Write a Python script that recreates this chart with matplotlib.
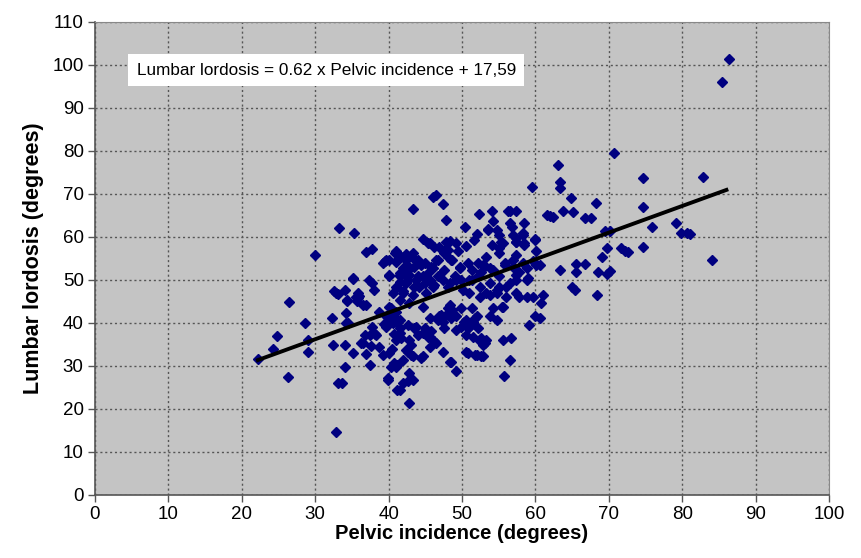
import numpy as np
import matplotlib
matplotlib.use('Agg')
import matplotlib.pyplot as plt

plt.rcParams['font.family'] = ['Liberation Sans', 'DejaVu Sans']

# points: (pelvic incidence, lumbar lordosis)
points = [
    (86.3, 101.4), (85.4, 96.0), (82.8, 74.0), (84.1, 54.7), (70.7, 79.5), (63.1, 76.7),
    (63.3, 72.8), (63.3, 71.4), (64.9, 69.1), (74.6, 73.6), (74.6, 67.0), (62.0, 64.8),
    (62.4, 64.6), (63.7, 66.0), (65.1, 65.8), (66.8, 64.4), (67.6, 64.3), (68.2, 67.9),
    (69.4, 61.4), (70.1, 61.4), (75.9, 62.3), (79.2, 63.3), (80.6, 60.9), (81.0, 60.7),
    (79.8, 60.9), (69.7, 57.4), (69.0, 55.4), (71.7, 57.4), (72.2, 56.7), (72.6, 56.5),
    (74.6, 57.7), (63.3, 52.2), (65.5, 53.7), (65.5, 51.9), (66.7, 53.7), (68.5, 51.9),
    (69.8, 51.4), (70.1, 52.1), (65.0, 48.4), (65.4, 47.7), (68.4, 46.5), (60.8, 44.7),
    (60.6, 41.2), (59.5, 71.6),
    (33.2, 62.0), (35.3, 60.8), (30.0, 55.8), (36.9, 56.4), (37.7, 57.1), (39.5, 54.4),
    (39.2, 53.9), (39.7, 54.7), (40.9, 56.2), (41.0, 54.1), (35.2, 50.2), (37.4, 50.0),
    (37.7, 49.2), (38.0, 47.7), (32.5, 47.3), (33.1, 46.7), (34.0, 47.7), (34.3, 45.2),
    (35.8, 46.9), (36.0, 46.3), (35.7, 45.0), (36.9, 44.2), (26.5, 44.8), (32.3, 41.2),
    (34.2, 42.3), (34.5, 39.9), (28.6, 39.9), (24.8, 37.0), (24.2, 34.0), (29.0, 36.1),
    (29.0, 33.3), (22.2, 31.6), (26.3, 27.5), (32.4, 34.9), (34.1, 34.9), (35.1, 33.0),
    (34.0, 29.8), (33.1, 26.0), (33.6, 26.0), (36.9, 32.8), (36.3, 35.4), (36.8, 37.2),
    (37.5, 37.2), (38.3, 37.2), (37.6, 34.7), (37.8, 39.1), (37.5, 30.1), (38.7, 34.5),
    (39.2, 32.6), (38.7, 42.6), (39.6, 41.7), (40.6, 41.5), (39.4, 39.7), (39.6, 39.1),
    (40.7, 37.4), (41.0, 36.1), (40.5, 34.0), (39.9, 26.7), (41.2, 24.4), (40.3, 29.8),
    (40.8, 30.6), (41.2, 30.2), (32.9, 14.7),
    (46.0, 69.2), (46.4, 69.8), (47.4, 67.7), (43.3, 66.4), (47.8, 63.8), (52.3, 65.3),
    (54.1, 65.9), (56.3, 65.9), (57.3, 66.1), (58.5, 63.3), (56.5, 63.3), (56.8, 62.4),
    (61.6, 65.0), (50.4, 62.4), (52.0, 60.6), (51.6, 59.3), (53.6, 61.8), (54.7, 61.6),
    (54.1, 58.1), (55.3, 58.9), (55.1, 57.4), (57.3, 59.7), (57.3, 58.7), (58.3, 60.5),
    (58.5, 58.5), (60.0, 59.3), (44.7, 59.5), (45.6, 58.5), (46.9, 57.7), (48.3, 59.1),
    (49.2, 58.5), (41.0, 56.6), (42.4, 56.0), (43.3, 55.0), (47.6, 56.6), (48.1, 55.4),
    (48.7, 54.7), (49.7, 52.7), (46.5, 54.7), (46.0, 52.7), (44.4, 53.5), (52.2, 53.9),
    (53.1, 53.3), (53.8, 52.7), (52.6, 51.9), (55.8, 53.5), (56.9, 52.9), (58.8, 52.7),
    (60.1, 53.5), (57.4, 51.2), (59.0, 50.4), (41.5, 51.6), (42.8, 51.2), (43.7, 50.0),
    (44.7, 50.8), (45.6, 50.0), (42.4, 49.2), (41.0, 48.4), (44.2, 48.4), (46.0, 48.4),
    (47.4, 50.0), (46.9, 50.8), (48.3, 49.2), (49.2, 50.0), (41.9, 46.9), (43.3, 46.5),
    (45.1, 46.9), (42.8, 44.6), (44.7, 43.8), (41.5, 45.3), (51.0, 50.0), (52.4, 48.4),
    (53.8, 49.2), (54.7, 47.7), (56.0, 48.4), (57.4, 46.9), (58.8, 46.1), (56.0, 46.1),
    (53.8, 46.5), (52.4, 46.1), (51.0, 46.9), (50.1, 47.7), (60.0, 41.5), (59.1, 39.5),
    (48.3, 44.2), (48.7, 43.0), (47.8, 41.9), (46.9, 41.5), (47.4, 40.3), (49.2, 41.5),
    (50.6, 40.7), (51.5, 40.3), (52.0, 41.5), (51.0, 39.1), (49.9, 39.1), (49.2, 38.4),
    (50.6, 37.2), (51.5, 36.8), (52.4, 35.7), (53.3, 36.0), (52.9, 34.9), (54.2, 43.4),
    (55.6, 43.8), (54.7, 40.7), (53.8, 41.5), (55.6, 36.0), (56.7, 36.4), (56.5, 31.4),
    (55.7, 27.7), (43.7, 39.1), (44.7, 37.6), (45.6, 36.8), (46.5, 35.3), (42.8, 36.0),
    (41.5, 37.6), (42.4, 33.7), (43.3, 32.2), (41.9, 31.4), (41.0, 29.8), (42.8, 28.3),
    (43.3, 26.7), (41.9, 26.0), (41.5, 24.4), (42.8, 21.3), (44.7, 32.2), (45.6, 34.5),
    (48.3, 31.0), (49.2, 28.7), (50.6, 33.3), (52.0, 32.6), (52.9, 32.2), (40.1, 54.7),
    (41.9, 55.4), (43.3, 56.2), (42.8, 53.1), (41.5, 50.8), (40.1, 50.8), (40.1, 43.8),
    (41.0, 42.6), (40.6, 39.9), (41.5, 40.7),
    (40.1, 33.0), (39.9, 27.1), (36.5, 35.3), (38.1, 37.4), (40.1, 41.1), (41.0, 40.3),
    (41.5, 38.8), (41.7, 36.4), (34.2, 39.9), (34.4, 45.3), (35.8, 45.7), (36.5, 44.2),
    (40.3, 43.4), (41.2, 56.2), (42.4, 54.7), (41.0, 54.3), (41.9, 52.7), (41.5, 51.2),
    (42.4, 50.8), (40.1, 51.2), (35.1, 50.4), (32.8, 46.9), (35.6, 46.1), (40.6, 46.9),
    (41.9, 47.3), (41.5, 49.6),
    (45.3, 58.5), (46.2, 57.7), (47.8, 58.9), (48.1, 57.0), (47.6, 56.2), (49.4, 56.6),
    (50.6, 57.8), (44.0, 54.7), (43.5, 53.1), (42.6, 52.3), (44.9, 53.9), (45.8, 53.1),
    (46.7, 54.7), (48.5, 54.7), (49.7, 53.1), (50.8, 53.9), (51.3, 52.3), (47.6, 52.3),
    (49.0, 50.8), (46.7, 50.8), (45.3, 51.6), (44.0, 50.8), (42.6, 50.0), (43.5, 48.4),
    (44.9, 49.2), (46.2, 48.8), (48.1, 48.4), (49.9, 50.0), (51.3, 50.0), (52.2, 50.8),
    (56.5, 65.9), (54.2, 63.6), (53.5, 61.6), (55.1, 60.5), (56.9, 60.5), (58.3, 60.9),
    (59.9, 59.5), (55.6, 58.5), (57.4, 58.9), (58.5, 58.1), (55.1, 56.2), (57.4, 55.8),
    (60.1, 56.6), (53.3, 55.4), (55.8, 53.9), (56.9, 54.7), (58.3, 53.9), (59.6, 54.3),
    (60.6, 53.5), (52.8, 53.5), (54.2, 52.3), (55.1, 50.8), (57.8, 51.9), (57.4, 50.0),
    (58.8, 50.0), (56.5, 49.2), (55.1, 48.4), (53.3, 46.9), (54.7, 46.9), (57.8, 46.1),
    (59.6, 46.1), (61.0, 46.5),
    (48.1, 43.4), (49.9, 43.4), (51.3, 43.4), (47.2, 41.9), (48.5, 41.1), (50.3, 40.3),
    (51.7, 41.1), (50.8, 38.8), (52.2, 38.8), (47.6, 38.8), (45.8, 38.0), (44.9, 38.8),
    (43.5, 38.8), (42.6, 39.5), (44.0, 37.2), (45.3, 36.8), (46.2, 35.7), (43.1, 34.9),
    (42.6, 33.3), (43.1, 32.6), (44.4, 31.8), (47.4, 33.3), (48.5, 31.0), (50.8, 32.9),
    (51.7, 32.6), (42.6, 26.4), (45.6, 41.1), (46.7, 40.7), (55.5, 43.6), (52.6, 36.4),
    (53.1, 35.3), (52.6, 32.2),
]
pelvic_incidence = [p[0] for p in points]
lumbar_lordosis = [p[1] for p in points]

slope = 0.62
intercept = 17.59
fit_range = [22.2, 86.0]
equation = "Lumbar lordosis = 0.62 x Pelvic incidence + 17,59"

fig = plt.figure(figsize=(8.62, 5.58), dpi=100)
ax = fig.add_axes([0.110, 0.113, 0.852, 0.848])
ax.set_facecolor('#c4c4c4')

ax.plot(pelvic_incidence, lumbar_lordosis, linestyle='none', marker='D',
        markersize=5, color='#000080', zorder=3)

fx = np.array(fit_range)
ax.plot(fx, slope * fx + intercept, color='black', linewidth=2.8, zorder=4)

ax.text(5.7, 98.7, equation, fontsize=12.3, va='center', ha='left', zorder=5,
        bbox=dict(boxstyle='square,pad=0.5', facecolor='white', edgecolor='none'))

ax.set_xlim(0, 100)
ax.set_ylim(0, 110)
ax.set_xticks(np.arange(0, 101, 10))
ax.set_yticks(np.arange(0, 111, 10))
ax.grid(True, color='#555555', linestyle=(0, (1.5, 2)), linewidth=1)
ax.set_axisbelow(True)
ax.tick_params(direction='out', length=5, width=1, color='#555555', labelsize=13.5, pad=3)

for side in ['left', 'bottom']:
    ax.spines[side].set_color('#555555')
    ax.spines[side].set_linewidth(1.2)
for side in ['top', 'right']:
    ax.spines[side].set_color('#888888')
    ax.spines[side].set_linewidth(0.8)

ax.set_xlabel('Pelvic incidence (degrees)', fontsize=14.5, fontweight='bold', labelpad=1)
ax.set_ylabel('Lumbar lordosis (degrees)', fontsize=15.5, fontweight='bold', labelpad=6)

fig.savefig('out.png', dpi=100)
